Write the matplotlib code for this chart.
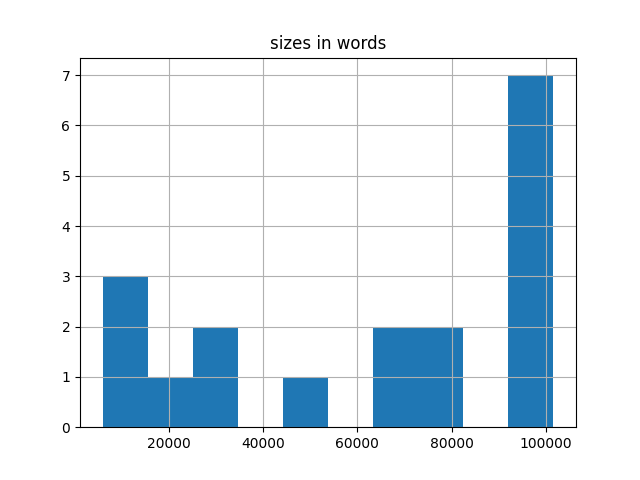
import matplotlib
matplotlib.use('Agg')
import matplotlib.pyplot as plt

# histogram bins
bin_edges = [5980, 15538, 25096, 34654, 44212, 53770, 63328, 72886, 82444, 92002, 101560]
counts = [3, 1, 2, 0, 1, 0, 2, 2, 0, 7]

fig, ax = plt.subplots(figsize=(6.4, 4.8), dpi=100)
ax.hist(bin_edges[:-1], bins=bin_edges, weights=counts, color='#1f77b4')
ax.grid(True)
ax.set_title('sizes in words')

fig.savefig('out.png')
